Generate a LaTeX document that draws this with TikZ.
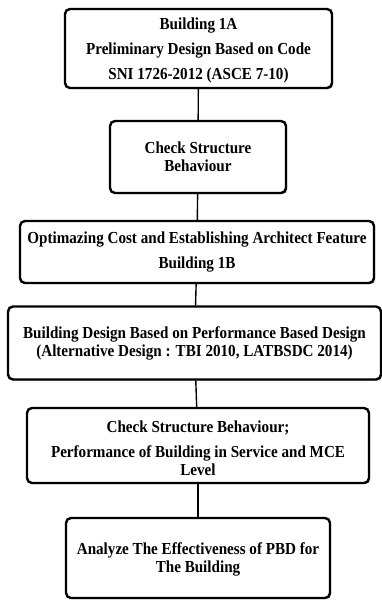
\documentclass[tikz,border=0pt]{standalone}
\usepackage{fontspec}
\setmainfont{Liberation Serif}[FakeStretch=0.9]
\usetikzlibrary{shadows}
\begin{document}
\begin{tikzpicture}[x=1pt,y=-1pt,
  box/.style={draw=black, line width=2.4pt, rounded corners=5pt, fill=white,
    drop shadow={shadow xshift=1.2pt, shadow yshift=-1.2pt, opacity=0.35, fill=black},
    align=center, inner sep=0pt, font=\bfseries\fontsize{16.8}{25}\selectfont},
  tight/.style={font=\bfseries\fontsize{16.8}{18}\selectfont},
  link/.style={draw=black, line width=1.4pt}]
\useasboundingbox (0,0) rectangle (382,600);
\node[box, minimum width=267pt, minimum height=79pt] (b1) at (198.5,48.5)
  {\rule{0pt}{16pt}Building 1A\\Preliminary Design Based on Code\\SNI 1726-2012 (ASCE 7-10)};
\node[box, tight, minimum width=176pt, minimum height=72pt] (b2) at (198,157)
  {Check Structure\\Behaviour};
\node[box, minimum width=354pt, minimum height=62pt] (b3) at (197,252)
  {Optimazing Cost and Establishing Architect Feature\\Building 1B};
\node[box, tight, minimum width=373pt, minimum height=73pt] (b4) at (194.5,343)
  {Building Design Based on Performance Based Design\\(Alternative Design : TBI 2010, LATBSDC 2014)};
\node[box, minimum width=342pt, minimum height=75pt] (b5) at (198,445.5)
  {\rule{0pt}{18pt}Check Structure Behaviour;\\Performance of Building in Service and MCE\\[-7pt]Level};
\node[box, tight, minimum width=264pt, minimum height=80pt] (b6) at (198,558)
  {\rule{0pt}{14pt}Analyze The Effectiveness of PBD for\\The Building};
\draw[link] (b1) -- (b2);
\draw[link] (b2) -- (b3);
\draw[link] (b3) -- (b4);
\draw[link] (b4) -- (b5);
\draw[link] (b5) -- (b6);
\end{tikzpicture}
\end{document}
